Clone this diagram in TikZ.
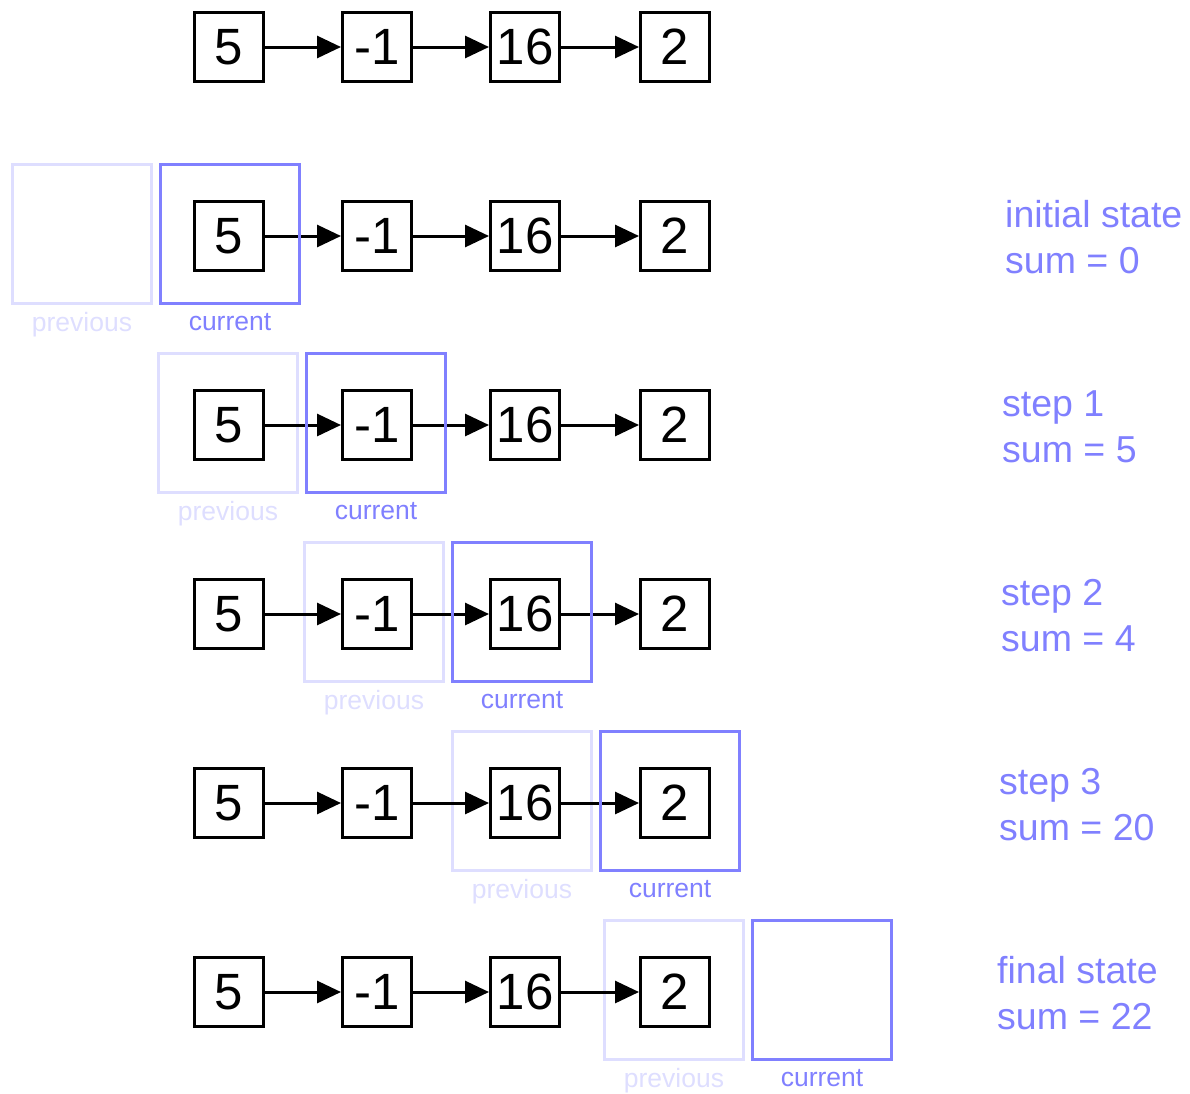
\documentclass[tikz,border=0pt]{standalone}
\usepackage{fontspec}
\setmainfont{Liberation Sans}
\usetikzlibrary{arrows.meta}
\definecolor{curblue}{RGB}{128,128,255}
\definecolor{prevblue}{RGB}{222,222,255}
\definecolor{prevtext}{RGB}{222,222,255}
\begin{document}
\begin{tikzpicture}[x=1pt,y=-1pt,
  numbox/.style={draw,line width=3pt,minimum size=69pt,inner sep=0pt,font=\fontsize{51}{60}\selectfont},
  link/.style={line width=3pt,-{Triangle[length=24pt,width=22pt]}},
  curbox/.style={draw=curblue,line width=3pt,minimum size=139pt,inner sep=0pt},
  prevbox/.style={draw=prevblue,line width=3pt,minimum size=139pt,inner sep=0pt},
  curlab/.style={text=curblue,font=\fontsize{26.5}{30}\selectfont,anchor=base,inner sep=0pt},
  prevlab/.style={text=prevtext,font=\fontsize{26.5}{30}\selectfont,anchor=base,inner sep=0pt},
  statelab/.style={text=curblue,font=\fontsize{37.5}{44}\selectfont,anchor=base west,inner sep=0pt}]
\useasboundingbox (0,0) rectangle (1190,1093);

% previous boxes (behind)
\foreach \r/\px/\cx/\yy in {1/82/230/236, 2/228/376/425, 3/374/522/614, 4/522/670/803, 5/674/822/992}{
  \node[prevbox] (prev\r) at (\px,\yy-2) {};
  \node[prevlab] (prevl\r) at (\px,\yy+95) {previous};
}

% number chains
\foreach \r/\yy in {0/47, 1/236, 2/425, 3/614, 4/803, 5/992}{
  \node[numbox] (n\r a) at (229,\yy) {5};
  \node[numbox] (n\r b) at (377,\yy) {-1};
  \node[numbox] (n\r c) at (525,\yy) {16};
  \node[numbox] (n\r d) at (675,\yy) {2};
  \draw[link] (n\r a) -- (n\r b);
  \draw[link] (n\r b) -- (n\r c);
  \draw[link] (n\r c) -- (n\r d);
}

% current boxes (front)
\foreach \r/\px/\cx/\yy in {1/82/230/236, 2/228/376/425, 3/374/522/614, 4/522/670/803, 5/674/822/992}{
  \node[curbox] (cur\r) at (\cx,\yy-2) {};
  \node[curlab] (curl\r) at (\cx,\yy+94) {current};
}

% state labels
\node[statelab] (s1a) at (1005,227) {initial state};
\node[statelab] (s1b) at (1005,273) {sum = 0};
\node[statelab] (s2a) at (1002,416) {step 1};
\node[statelab] (s2b) at (1002,462) {sum = 5};
\node[statelab] (s3a) at (1001,605) {step 2};
\node[statelab] (s3b) at (1001,651) {sum = 4};
\node[statelab] (s4a) at (999,794) {step 3};
\node[statelab] (s4b) at (999,840) {sum = 20};
\node[statelab] (s5a) at (997,983) {final state};
\node[statelab] (s5b) at (997,1029) {sum = 22};
\end{tikzpicture}
\end{document}
